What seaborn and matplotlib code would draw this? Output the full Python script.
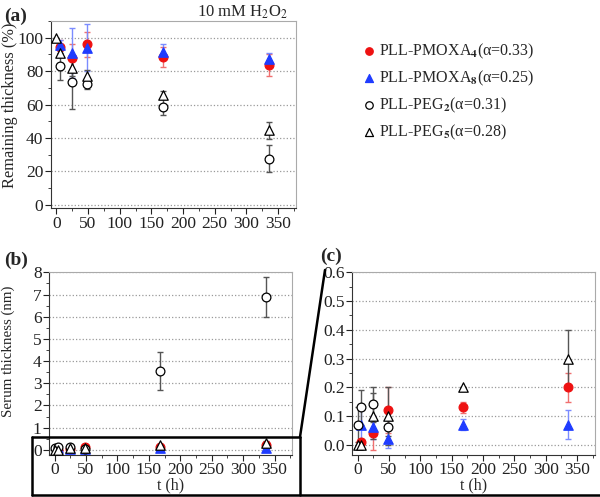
import pandas as pd
import matplotlib.pyplot as plt
import seaborn as sns
from matplotlib.lines import Line2D
from matplotlib.ticker import MultipleLocator

# Dados
series = ["PLL-PMOXA4", "PLL-PMOXA8", "PLL-PEG2", "PLL-PEG5"]
labels = [r"PLL-PMOXA$_{\mathbf{4}}$(α=0.33)",
          r"PLL-PMOXA$_{\mathbf{8}}$(α=0.25)",
          r"PLL-PEG$_{\mathbf{2}}$(α=0.31)",
          r"PLL-PEG$_{\mathbf{5}}$(α=0.28)"]

# (a) remaining thickness (%)
t_a = {
    "PLL-PMOXA4": [5, 24, 48, 168, 336],
    "PLL-PMOXA8": [5, 24, 48, 168, 336],
    "PLL-PEG2": [5, 24, 48, 168, 336],
    "PLL-PEG5": [0, 5, 24, 48, 168, 336],
}
y_a = {
    "PLL-PMOXA4": [94.5, 88, 96, 88.5, 83.5],
    "PLL-PMOXA8": [95.5, 91, 94, 91.5, 87.5],
    "PLL-PEG2": [83, 73.5, 72.5, 58.5, 27.5],
    "PLL-PEG5": [100, 91, 82, 77, 66, 44.5],
}
e_a = {
    "PLL-PMOXA4": [4, 8, 7.5, 6, 6.5],
    "PLL-PMOXA8": [3, 15, 14, 4.5, 3.5],
    "PLL-PEG2": [8, 16, 3, 5, 8],
    "PLL-PEG5": [0, 2, 5, 4, 2, 5],
}

# (b) e (c) serum thickness (nm)
t_s = {
    "PLL-PMOXA4": [5, 24, 48, 168, 336],
    "PLL-PMOXA8": [5, 24, 48, 168, 336],
    "PLL-PEG2": [0, 5, 24, 48, 168, 336],
    "PLL-PEG5": [0, 5, 24, 48, 168, 336],
}
y_s = {
    "PLL-PMOXA4": [0.01, 0.04, 0.12, 0.13, 0.20],
    "PLL-PMOXA8": [0.07, 0.06, 0.02, 0.07, 0.07],
    "PLL-PEG2": [0.07, 0.13, 0.14, 0.06, 3.55, 6.9],
    "PLL-PEG5": [0.0, 0.0, 0.10, 0.10, 0.20, 0.30],
}
e_s = {
    "PLL-PMOXA4": [0.01, 0.06, 0.08, 0.02, 0.05],
    "PLL-PMOXA8": [0.06, 0.04, 0.03, 0.02, 0.05],
    "PLL-PEG2": [0.06, 0.06, 0.06, 0.03, 0.85, 0.9],
    "PLL-PEG5": [0.0, 0.0, 0.08, 0.10, 0.0, 0.10],
}

estilo = {
    "PLL-PMOXA4": dict(marker="o", color="#ee1111", edgecolor="#ee1111", ecolor="#f07070", s=40),
    "PLL-PMOXA8": dict(marker="^", color="#1f3cff", edgecolor="#1f3cff", ecolor="#7b8cff", s=46),
    "PLL-PEG2": dict(marker="o", color="white", edgecolor="black", ecolor="#555555", s=40),
    "PLL-PEG5": dict(marker="^", color="white", edgecolor="black", ecolor="#555555", s=46),
}


def monta_df(t, y, e):
    linhas = []
    for s in series:
        for ti, yi, ei in zip(t[s], y[s], e[s]):
            linhas.append({"serie": s, "t": ti, "valor": yi, "erro": ei})
    return pd.DataFrame(linhas)


df_a = monta_df(t_a, y_a, e_a)
df_s = monta_df(t_s, y_s, e_s)

sns.set_style("white")
plt.rcParams["font.family"] = ["Liberation Serif", "DejaVu Serif"]
plt.rcParams["mathtext.fontset"] = "stix"
plt.rcParams["font.size"] = 11

fig = plt.figure(figsize=(6, 4.97), dpi=100)
ax_a = fig.add_axes([0.085, 0.5815, 0.408, 0.376])
ax_b = fig.add_axes([0.082, 0.085, 0.405, 0.367])
ax_c = fig.add_axes([0.587, 0.085, 0.404, 0.367])


def desenha(ax, df):
    for s in series:
        d = df[df["serie"] == s]
        st = estilo[s]
        ax.errorbar(d["t"], d["valor"], yerr=d["erro"], fmt="none", ecolor=st["ecolor"],
                    elinewidth=1, capsize=2.5, capthick=1, zorder=2)
        sns.scatterplot(data=d, x="t", y="valor", ax=ax, marker=st["marker"], color=st["color"],
                        edgecolor=st["edgecolor"], linewidth=0.9, s=st["s"], zorder=3,
                        label=s, legend=False)


def formata(ax, ylim, ymaj, ymin):
    ax.set_xlim(-8.5, 378)
    ax.set_ylim(*ylim)
    ax.xaxis.set_major_locator(MultipleLocator(50))
    ax.xaxis.set_minor_locator(MultipleLocator(25))
    ax.yaxis.set_major_locator(MultipleLocator(ymaj))
    ax.yaxis.set_minor_locator(MultipleLocator(ymin))
    ax.grid(axis="y", which="major", linestyle=":", color="#999999", linewidth=0.9)
    ax.set_axisbelow(True)
    for lado in ["top", "right"]:
        ax.spines[lado].set_color("#aaaaaa")
    for lado in ["left", "bottom"]:
        ax.spines[lado].set_color("#333333")
    ax.tick_params(axis="both", which="major", direction="out", length=4, width=0.8,
                   bottom=True, left=True, labelsize=12.5, pad=1.5, colors="#222222")
    ax.tick_params(axis="both", which="minor", direction="out", length=2, width=0.6,
                   bottom=True, left=True, colors="#222222")
    ax.set_xlabel("")
    ax.set_ylabel("")


desenha(ax_a, df_a)
formata(ax_a, (-2, 110), 20, 10)
ax_a.set_ylabel("Remaining thickness (%)", fontsize=11.8)
ax_a.yaxis.set_label_coords(-0.135, 0.55)

desenha(ax_b, df_s)
formata(ax_b, (-0.22, 8), 1, 0.5)
ax_b.set_ylabel("Serum thickness (nm)", fontsize=10.8)
ax_b.yaxis.set_label_coords(-0.14, 0.565)
ax_b.set_xlabel("t (h)", fontsize=11.5, labelpad=-0.5)

desenha(ax_c, df_s)
formata(ax_c, (-0.035, 0.6), 0.1, 0.05)
ax_c.yaxis.set_major_formatter(plt.FormatStrFormatter("%.1f"))
ax_c.set_xlabel("t (h)", fontsize=11.5, labelpad=-0.5)

# rótulos dos painéis e título
fig.text(4 / 600, 1 - 16 / 497, "(a)", fontsize=14, fontweight="bold", va="center")
fig.text(4 / 600, 1 - 260 / 497, "(b)", fontsize=14, fontweight="bold", va="center")
fig.text(320 / 600, 1 - 256 / 497, "(c)", fontsize=14, fontweight="bold", va="center")
fig.text(243 / 600, 1 - 12 / 497, r"10 mM H$_2$O$_2$", fontsize=12, ha="center", va="center")

# legenda
handles, _ = ax_a.get_legend_handles_labels()
fig.legend(handles, labels, loc="upper left", bbox_to_anchor=(345 / 600, 1 - 27 / 497),
           frameon=False, fontsize=11.5, handletextpad=0.0, labelspacing=0.5,
           handlelength=1.2, markerscale=0.85)


# moldura do zoom
def px(x, y):
    return x / 600, 1 - y / 497


preto = dict(color="black", linewidth=1.8, transform=fig.transFigure)
for (x0, y0), (x1, y1) in [((32, 437), (300, 437)), ((32, 437), (32, 495)),
                           ((32, 495), (600, 495)), ((300, 437), (300, 495)),
                           ((300, 437), (325, 270))]:
    a, b = px(x0, y0)
    c, d = px(x1, y1)
    fig.add_artist(Line2D([a, c], [b, d], **preto))

plt.savefig("out.png", dpi=100)
plt.close()
